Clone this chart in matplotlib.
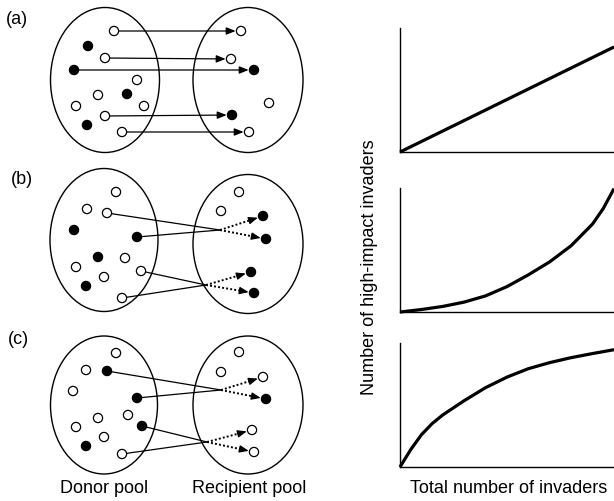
import matplotlib
matplotlib.use('Agg')
import matplotlib.pyplot as plt
from matplotlib.patches import Ellipse, Circle
import numpy as np

plt.rcParams['font.family'] = ['Liberation Sans', 'DejaVu Sans']

# ---------------- data: left schematic (pixel units of the figure) -------------
panel_labels = ['(a)', '(b)', '(c)']

# panel (a)
a_donor_x = [114, 88, 105, 74, 137, 98, 127, 76, 144, 105, 87, 122]
a_donor_y = [32, 47, 59, 71, 81, 96, 95, 107, 107, 117, 126, 133]
a_donor_filled = [0, 1, 0, 1, 0, 0, 1, 0, 0, 0, 1, 0]
a_recip_x = [241, 231, 254, 269, 232, 249]
a_recip_y = [32, 60, 71, 104, 116, 133]
a_recip_filled = [0, 0, 1, 0, 1, 0]
a_links = [(0, 0), (2, 1), (3, 2), (9, 4), (11, 5)]

# panel (b)
b_donor_x = [116, 87, 107, 74, 137, 98, 125, 76, 141, 104, 86, 122]
b_donor_y = [193, 210, 214, 231, 238, 258, 259, 268, 272, 278, 287, 299]
b_donor_filled = [0, 0, 0, 1, 1, 1, 0, 0, 0, 0, 1, 0]
b_recip_x = [239, 221, 263, 266, 251, 254]
b_recip_y = [193, 212, 217, 240, 273, 294]
b_recip_filled = [0, 0, 1, 1, 1, 1]
b_hub_x = [220, 206]
b_hub_y = [231, 286]
b_hub_sources = [(2, 4), (8, 11)]
b_hub_targets = [(2, 3), (4, 5)]

# panel (c)
c_donor_x = [116, 86, 107, 73, 137, 128, 98, 142, 76, 104, 86, 122]
c_donor_y = [354, 371, 372, 392, 399, 416, 419, 427, 428, 438, 447, 455]
c_donor_filled = [0, 0, 1, 0, 1, 0, 0, 1, 0, 0, 1, 0]
c_recip_x = [239, 221, 263, 266, 252, 254]
c_recip_y = [353, 373, 378, 400, 431, 453]
c_recip_filled = [0, 0, 0, 1, 0, 0]
c_hub_x = [221, 207]
c_hub_y = [391, 443]
c_hub_sources = [(2, 4), (7, 11)]
c_hub_targets = [(2, 3), (4, 5)]

pool_labels = ['Donor pool', 'Recipient pool']

# ---------------- data: right curves -------------
x_linear = [0, 10]
y_linear = [0, 8.47]
x_convex = [0, 1, 2, 3, 4, 5, 6, 7, 8, 9, 9.5, 10]
y_convex = [0, 0.2, 0.45, 0.8, 1.3, 2.05, 3.0, 4.05, 5.35, 7.1, 8.35, 9.95]
x_concave = [0, 0.5, 1, 1.5, 2, 3, 4, 5, 6, 7, 8, 9, 10]
y_concave = [0, 1.4, 2.6, 3.5, 4.2, 5.35, 6.4, 7.25, 7.93, 8.42, 8.82, 9.15, 9.46]
x_label = 'Total number of invaders'
y_label = 'Number of high-impact invaders'

# ---------------- figure -------------
W, H = 614, 502
fig = plt.figure(figsize=(W / 100, H / 100), dpi=100)
ax = fig.add_axes([0, 0, 1, 1])
ax.set_xlim(0, W)
ax.set_ylim(H, 0)
ax.axis('off')

R = 4.6
FS = 13

def draw_circles(xs, ys, fl):
    for x, y, f in zip(xs, ys, fl):
        ax.add_patch(Circle((x, y), R, facecolor='black' if f else 'white',
                            edgecolor='black', lw=0.9, zorder=5))

def tip_point(x0, y0, x1, y1, back):
    d = np.array([x1 - x0, y1 - y0], float)
    d /= np.hypot(*d)
    return x1 - d[0] * back, y1 - d[1] * back, d

AP = dict(arrowstyle='-|>,head_length=0.55,head_width=0.22', color='black',
          lw=0.9, shrinkA=0, shrinkB=0, mutation_scale=10)

def solid_arrow(x0, y0, x1, y1):
    tx, ty, d = tip_point(x0, y0, x1, y1, R + 0.8)
    ax.annotate('', xy=(tx, ty), xytext=(x0, y0), arrowprops=AP, zorder=3)

def dotted_arrow(x0, y0, x1, y1):
    tx, ty, d = tip_point(x0, y0, x1, y1, R + 0.8)
    hx, hy = tx - d[0] * 7, ty - d[1] * 7
    ax.plot([x0, hx], [y0, hy], color='black', lw=1.4,
            linestyle=(0, (1.0, 1.1)), zorder=3)
    ax.annotate('', xy=(tx, ty), xytext=(hx - d[0] * 1, hy - d[1] * 1),
                arrowprops=AP, zorder=3)

# ellipses: (cx, cy, w, h)
ellipses = [
    (105, 81, 109, 145), (248, 81, 110, 145),
    (104, 241, 108, 143), (248, 245, 110, 139),
    (104, 406, 107, 138), (248, 406, 110, 138),
]
for cx, cy, w, h in ellipses:
    ax.add_patch(Ellipse((cx, cy), w, h, facecolor='none', edgecolor='black',
                         lw=1.0, zorder=2))

# labels
for lab, (lx, ly) in zip(panel_labels, [(17, 20), (22, 180), (18, 340)]):
    ax.text(lx, ly, lab, fontsize=FS, ha='center', va='center')

# panel a
draw_circles(a_donor_x, a_donor_y, a_donor_filled)
draw_circles(a_recip_x, a_recip_y, a_recip_filled)
for i, j in a_links:
    solid_arrow(a_donor_x[i], a_donor_y[i], a_recip_x[j], a_recip_y[j])

# panels b, c
for dx, dy, df, rx, ry, rf, hx, hy, hs, ht in [
    (b_donor_x, b_donor_y, b_donor_filled, b_recip_x, b_recip_y, b_recip_filled,
     b_hub_x, b_hub_y, b_hub_sources, b_hub_targets),
    (c_donor_x, c_donor_y, c_donor_filled, c_recip_x, c_recip_y, c_recip_filled,
     c_hub_x, c_hub_y, c_hub_sources, c_hub_targets)]:
    draw_circles(dx, dy, df)
    draw_circles(rx, ry, rf)
    for k in range(len(hx)):
        for s in hs[k]:
            ax.plot([dx[s], hx[k]], [dy[s], hy[k]], color='black', lw=0.9,
                    zorder=3, solid_capstyle='butt')
        for t in ht[k]:
            dotted_arrow(hx[k], hy[k], rx[t], ry[t])

ax.text(104, 489, pool_labels[0], fontsize=FS, ha='center', va='center')
ax.text(249, 489, pool_labels[1], fontsize=FS, ha='center', va='center')

# ---------------- right panels -------------
left_px, right_px = 400, 614
rows = [(29, 153), (189, 313), (344, 468)]
curves = [(x_linear, y_linear), (x_convex, y_convex), (x_concave, y_concave)]
for (top, bot), (cx, cy) in zip(rows, curves):
    a2 = fig.add_axes([left_px / W, 1 - bot / H, (right_px - left_px) / W,
                       (bot - top) / H])
    a2.set_xlim(0, 10)
    a2.set_ylim(0, 10)
    a2.patch.set_alpha(0)
    for sp in ['top', 'right']:
        a2.spines[sp].set_visible(False)
    for sp in ['left', 'bottom']:
        a2.spines[sp].set_linewidth(1.0)
    a2.set_xticks([])
    a2.set_yticks([])
    a2.plot(cx, cy, color='black', lw=2.3, clip_on=False,
            solid_capstyle='butt', solid_joinstyle='round')

fig.text(370 / W, 1 - 267 / H, y_label, rotation=90, fontsize=FS,
         ha='center', va='center')
fig.text(509 / W, 1 - 489 / H, x_label, fontsize=FS, ha='center', va='center')

fig.savefig('out.png', dpi=100)
